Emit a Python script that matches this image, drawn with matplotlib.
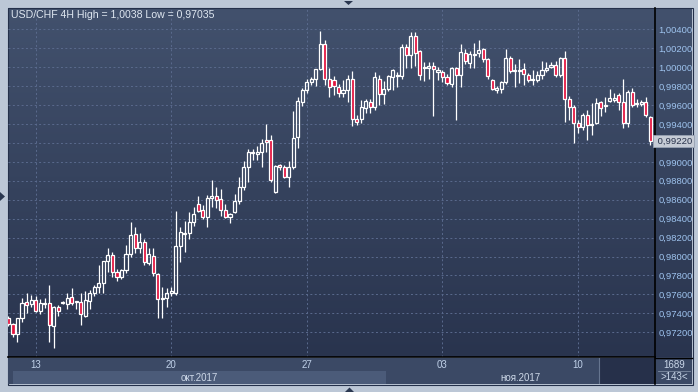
import numpy as np
import matplotlib
matplotlib.use('Agg')
import matplotlib.pyplot as plt
from matplotlib.colors import LinearSegmentedColormap
from matplotlib.patches import Rectangle, Polygon
from matplotlib.transforms import blended_transform_factory

plt.rcParams['font.family'] = ['Liberation Sans', 'DejaVu Sans']

# ---- data: USD/CHF 4H candles ----
opens = [
    0.9735, 0.9729, 0.9718, 0.9735, 0.9752, 0.9750, 0.9754, 0.9742, 0.9750, 0.9751,
    0.9727, 0.9747, 0.9751, 0.9750, 0.9757, 0.9752, 0.9752, 0.9737, 0.9753, 0.9762,
    0.9768, 0.9772, 0.9795, 0.9802, 0.9784, 0.9778, 0.9786, 0.9803, 0.9824, 0.9809,
    0.9815, 0.9793, 0.9801, 0.9782, 0.9755, 0.9756, 0.9761, 0.9761, 0.9811, 0.9824,
    0.9825, 0.9837, 0.9856, 0.9849, 0.9842, 0.9862, 0.9864, 0.9861, 0.9849, 0.9842,
    0.9847, 0.9859, 0.9873, 0.9895, 0.9910, 0.9908, 0.9910, 0.9923, 0.9923, 0.9868,
    0.9897, 0.9895, 0.9884, 0.9895, 0.9926, 0.9963, 0.9976, 0.9984, 0.9987, 0.9998,
    1.0025, 0.9988, 0.9986, 0.9979, 0.9973, 0.9976, 0.9988, 0.9945, 0.9945, 0.9957,
    0.9963, 0.9958, 0.9988, 0.9972, 0.9977, 0.9990, 0.9991, 0.9991, 1.0021, 1.0013,
    1.0033, 1.0017, 0.9999, 0.9999, 1.0001, 0.9995, 0.9995, 0.9990, 0.9982, 0.9999,
    0.9992, 1.0015, 1.0004, 1.0013, 1.0015, 1.0019, 1.0009, 0.9986, 0.9976, 0.9977,
    0.9984, 1.0010, 0.9996, 0.9996, 0.9998, 0.9992, 0.9986, 0.9986, 0.9992, 0.9997,
    1.0000, 1.0002, 0.9992, 1.0010, 0.9966, 0.9958, 0.9941, 0.9937, 0.9949, 0.9939,
    0.9941, 0.9963, 0.9959, 0.9964, 0.9965, 0.9971, 0.9963, 0.9941, 0.9974, 0.9961,
    0.9961, 0.9963, 0.9947,
]
highs = [
    0.9737, 0.9730, 0.9735, 0.9756, 0.9762, 0.9759, 0.9758, 0.9755, 0.9756, 0.9770,
    0.9748, 0.9749, 0.9753, 0.9761, 0.9767, 0.9753, 0.9761, 0.9764, 0.9765, 0.9770,
    0.9791, 0.9795, 0.9809, 0.9805, 0.9787, 0.9787, 0.9812, 0.9837, 0.9831, 0.9825,
    0.9818, 0.9809, 0.9809, 0.9783, 0.9768, 0.9767, 0.9768, 0.9848, 0.9831, 0.9838,
    0.9847, 0.9852, 0.9864, 0.9854, 0.9865, 0.9881, 0.9873, 0.9871, 0.9856, 0.9846,
    0.9866, 0.9884, 0.9901, 0.9914, 0.9914, 0.9917, 0.9924, 0.9940, 0.9928, 0.9897,
    0.9898, 0.9897, 0.9901, 0.9954, 0.9968, 0.9978, 0.9987, 0.9990, 0.9998, 1.0038,
    1.0029, 0.9999, 0.9991, 0.9982, 0.9986, 0.9992, 0.9996, 0.9949, 0.9965, 0.9966,
    0.9966, 0.9995, 0.9992, 0.9985, 0.9992, 0.9998, 0.9995, 1.0025, 1.0025, 1.0037,
    1.0037, 1.0018, 1.0005, 1.0005, 1.0005, 1.0000, 0.9997, 0.9993, 1.0000, 1.0000,
    1.0024, 1.0019, 1.0017, 1.0026, 1.0029, 1.0020, 1.0010, 0.9988, 0.9980, 0.9985,
    1.0019, 1.0012, 1.0003, 1.0009, 1.0004, 0.9994, 0.9997, 0.9996, 1.0006, 1.0005,
    1.0005, 1.0006, 1.0011, 1.0017, 0.9970, 0.9960, 0.9944, 0.9952, 0.9955, 0.9962,
    0.9967, 0.9964, 0.9968, 0.9977, 0.9973, 0.9973, 0.9987, 0.9976, 0.9978, 0.9966,
    0.9965, 0.9968, 0.9948,
]
lows = [
    0.9727, 0.9715, 0.9710, 0.9731, 0.9740, 0.9747, 0.9741, 0.9739, 0.9746, 0.9710,
    0.97035, 0.9737, 0.9750, 0.9745, 0.9749, 0.9745, 0.9728, 0.9736, 0.9745, 0.9758,
    0.9761, 0.9761, 0.9784, 0.9778, 0.9774, 0.9776, 0.9783, 0.9800, 0.9804, 0.9804,
    0.9791, 0.9791, 0.9779, 0.9735, 0.9735, 0.9747, 0.9758, 0.9759, 0.9794, 0.9805,
    0.9819, 0.9832, 0.9847, 0.9840, 0.9831, 0.9852, 0.9851, 0.9843, 0.9841, 0.9835,
    0.9846, 0.9856, 0.9870, 0.9879, 0.9902, 0.9902, 0.9895, 0.9910, 0.9879, 0.9867,
    0.9891, 0.9883, 0.9873, 0.9892, 0.9915, 0.9959, 0.9973, 0.9981, 0.9980, 0.9997,
    0.9981, 0.9968, 0.9971, 0.9968, 0.9969, 0.9963, 0.9938, 0.9939, 0.9941, 0.9952,
    0.9952, 0.9955, 0.9960, 0.9961, 0.9975, 0.9976, 0.9979, 0.9988, 0.9999, 0.9999,
    1.0001, 0.9986, 0.9985, 0.9988, 0.9948, 0.9986, 0.9984, 0.9981, 0.9979, 0.9944,
    0.9979, 1.0003, 0.9999, 0.9999, 1.0011, 1.0005, 0.9988, 0.9976, 0.9973, 0.9973,
    0.9982, 0.9994, 0.9979, 0.9983, 0.9981, 0.9984, 0.9981, 0.9984, 0.9988, 0.9995,
    0.9999, 0.9990, 0.9990, 0.9942, 0.9944, 0.9920, 0.9931, 0.9934, 0.9923, 0.9928,
    0.9940, 0.9948, 0.9953, 0.9963, 0.9963, 0.9955, 0.9936, 0.9937, 0.9958, 0.9958,
    0.9959, 0.9947, 0.9918,
]
closes = [
    0.9729, 0.9718, 0.9735, 0.9751, 0.9749, 0.9754, 0.9742, 0.9751, 0.9751, 0.9728,
    0.9747, 0.9742, 0.9752, 0.9756, 0.9751, 0.9753, 0.9739, 0.9754, 0.9761, 0.9768,
    0.9772, 0.9795, 0.9802, 0.9784, 0.9778, 0.9786, 0.9803, 0.9823, 0.9809, 0.9815,
    0.9794, 0.9803, 0.9783, 0.9755, 0.9756, 0.9762, 0.9764, 0.9811, 0.9826, 0.9825,
    0.9837, 0.9845, 0.9848, 0.9842, 0.9862, 0.9864, 0.9860, 0.9849, 0.9842, 0.9845,
    0.9859, 0.9873, 0.9895, 0.9910, 0.9909, 0.9910, 0.9920, 0.9921, 0.9881, 0.9896,
    0.9895, 0.9884, 0.9895, 0.9925, 0.9964, 0.9976, 0.9984, 0.9987, 0.9998, 1.0025,
    0.9988, 0.9979, 0.9980, 0.9973, 0.9976, 0.9988, 0.9945, 0.9942, 0.9958, 0.9964,
    0.9958, 0.9990, 0.9972, 0.9977, 0.9991, 0.9997, 0.9992, 1.0021, 1.0013, 1.0033,
    1.0015, 0.9992, 1.0000, 1.0001, 0.9998, 0.9997, 0.9990, 0.9983, 0.9999, 0.9992,
    1.0016, 1.0007, 1.0014, 1.0014, 1.0018, 1.0009, 0.9991, 0.9977, 0.9978, 0.9984,
    1.0010, 0.9996, 0.9997, 0.9997, 0.9993, 0.9986, 0.9987, 0.9992, 0.9997, 0.9999,
    1.0002, 0.9992, 1.0010, 0.9966, 0.9958, 0.9941, 0.9937, 0.9949, 0.9939, 0.9940,
    0.9962, 0.9957, 0.9960, 0.9967, 0.9967, 0.9963, 0.9941, 0.9974, 0.9960, 0.9962,
    0.9963, 0.9949, 0.9922,
]

price_levels = [0.972, 0.974, 0.976, 0.978, 0.980, 0.982, 0.984, 0.986, 0.988,
                0.990, 0.992, 0.994, 0.996, 0.998, 1.000, 1.002, 1.004]
date_pos = [6, 36, 66, 96, 126]
date_labels = ['13', '20', '27', '03', '10']
month_edges = [1.0, 83.5]
month_labels = ['окт.2017', 'ноя.2017']
title = 'USD/CHF 4H High = 1,0038 Low = 0,97035'
bars_total, bars_visible = '1689', '>143<'

o = np.array(opens); h = np.array(highs); l = np.array(lows); c = np.array(closes)
x = np.arange(len(o))
xmin, xmax = -0.1, 143.0
ymin, ymax = 0.96939, 1.00625

W, H = 698, 392
def rect(x0, y0, x1, y1):
    return [x0 / W, 1 - y1 / H, (x1 - x0) / W, (y1 - y0) / H]

fig = plt.figure(figsize=(W / 100, H / 100), dpi=100, facecolor='#bcc7d6')

# background / frame
bg = fig.add_axes([0, 0, 1, 1])
bg.set_xlim(0, W); bg.set_ylim(H, 0); bg.axis('off')
grad = LinearSegmentedColormap.from_list('g', ['#42516d', '#29344e'])
bg.imshow(np.linspace(0, 1, 256).reshape(-1, 1), cmap=grad, aspect='auto',
          extent=(8, 692, 357, 8), zorder=0)
bg.add_patch(Rectangle((7.5, 7.5), 685, 377, fill=False, ec='#24304a', lw=0.8))
bg.add_patch(Rectangle((655, 357), 37, 27, fc='#3b4965', ec='none'))
bg.plot([655, 692], [357.5, 357.5], color='black', lw=1)
bg.plot([658, 690], [371, 371], color='#7f8da3', lw=0.6)
bg.text(674, 365, bars_total, color='#c9d6e8', fontsize=7, ha='center', va='center')
bg.text(674, 377.5, bars_visible, color='#c9d6e8', fontsize=7, ha='center', va='center')
for pts in ([(344, 1), (353, 1), (348.5, 5)], [(0, 192), (0, 201), (5, 196.5)],
            [(345, 392), (354, 392), (349.5, 387.5)]):
    bg.add_patch(Polygon(pts, closed=True, fc='#2a3750', ec='none'))

# main price axes
ax = fig.add_axes(rect(8, 8, 655, 357))
ax.set_facecolor('none')
ax.set_xlim(xmin, xmax); ax.set_ylim(ymin, ymax)
for s in ['top', 'left']:
    ax.spines[s].set_visible(False)
for s in ['bottom', 'right']:
    ax.spines[s].set_color('black'); ax.spines[s].set_linewidth(1.2)

ax.set_yticks(price_levels)
last = c[-1]
ax.set_yticklabels(['' if abs(v - last) < 0.001 else f'{v:.5f}'.replace('.', ',')
                    for v in price_levels])
ax.yaxis.tick_right()
ax.tick_params(axis='y', length=0, pad=2.6, labelsize=6.8, labelcolor='#9ec3ee')
ax.set_xticks(date_pos)
ax.tick_params(axis='x', length=0, labelbottom=False)
ax.grid(True, color='#5a6a8d', linestyle=(0, (2, 2.5)), linewidth=0.7)

up = c >= o
body_lo = np.minimum(o, c); body_hi = np.maximum(o, c)
ax.vlines(x, body_hi, h, color='white', lw=0.9, zorder=3)
ax.vlines(x, l, body_lo, color='white', lw=0.9, zorder=3)
ax.bar(x, body_hi - body_lo, bottom=body_lo, width=0.68,
       color=['none' if u else '#e3123d' for u in up],
       edgecolor='white', linewidth=0.9, zorder=4)

blend = blended_transform_factory(ax.transAxes, ax.transData)
ax.text(1.0, last, ' ' + f'{last:.5f}'.replace('.', ','), transform=blend,
        ha='left', va='center', fontsize=6.8, color='#27314a', zorder=6,
        bbox=dict(boxstyle='square,pad=0.18', fc='#c5cbd5', ec='#98a2b2', lw=0.6),
        clip_on=False)

fig.text(11 / W, 1 - 14.5 / H, title, color='#dfe7f1', fontsize=7.6, va='center')

# bottom date strip
axb = fig.add_axes(rect(8, 357.5, 655, 384), sharex=ax)
axb.set_facecolor('#3b4965')
axb.set_ylim(0, 1)
axb.set_yticks([])
axb.tick_params(axis='x', length=0, labelbottom=False)
for s in ['top', 'left', 'bottom']:
    axb.spines[s].set_visible(False)
axb.spines['right'].set_color('black'); axb.spines['right'].set_linewidth(1.2)
axb.axvspan(month_edges[0], month_edges[1], ymin=0, ymax=0.5, color='#4b5b79', lw=0)
axb.axvspan(130.8, xmax, color='#26304a', lw=0)
axb.axvline(130.6, color='#66758f', lw=0.8)
for p, t in zip(date_pos, date_labels):
    axb.text(p, 0.72, t, color='#bfd0e8', fontsize=7, ha='center', va='center')
month_mid = [(month_edges[0] + month_edges[1]) / 2, (month_edges[1] + xmax) / 2]
for p, t in zip(month_mid, month_labels):
    axb.text(p, 0.24, t, color='#cdd8e8', fontsize=7, ha='center', va='center')

fig.savefig('out.png', dpi=100, facecolor=fig.get_facecolor())
